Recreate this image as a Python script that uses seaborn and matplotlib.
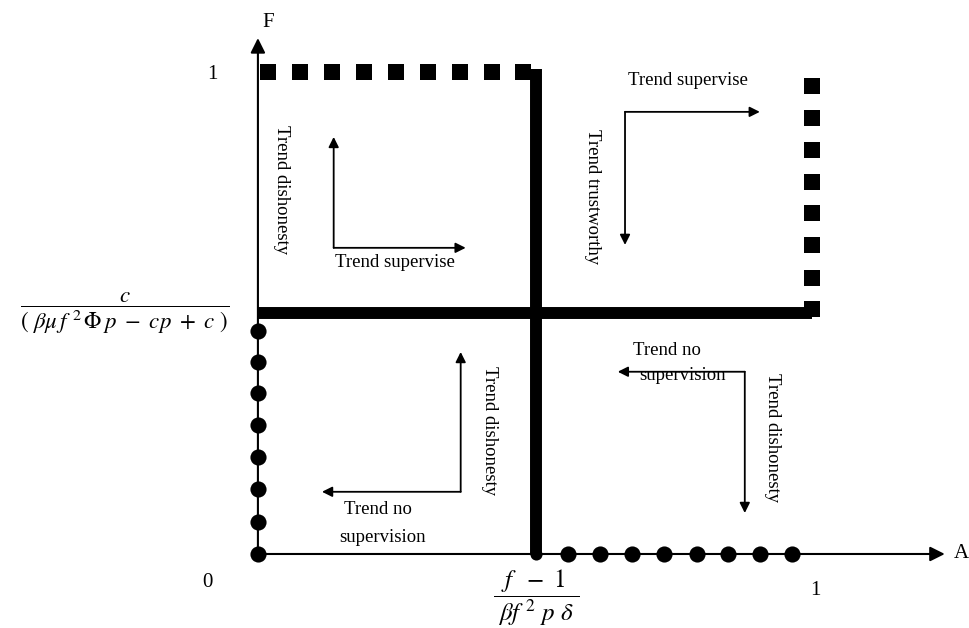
import matplotlib
matplotlib.use("Agg")
import matplotlib.pyplot as plt
import seaborn as sns
import pandas as pd
import numpy as np

# thresholds (x* = (f-1)/(beta f^2 p delta), y* = c/(...))
x_star = 0.5
y_star = 0.5

# square markers: top edge (F = 1) and right edge (A = 1)
sq_top_x = [0.018, 0.075, 0.133, 0.190, 0.248, 0.305, 0.363, 0.420, 0.476]
sq_top_y = [1.0] * 9
sq_right_x = [0.995] * 8
sq_right_y = [0.971, 0.905, 0.838, 0.772, 0.707, 0.640, 0.573, 0.508]

# circle markers: left edge (A = 0) and bottom edge (F = 0)
dot_left_x = [0.0] * 8
dot_left_y = [0.463, 0.398, 0.334, 0.268, 0.201, 0.135, 0.066, 0.0]
dot_bot_x = [0.557, 0.614, 0.671, 0.729, 0.788, 0.844, 0.901, 0.959]
dot_bot_y = [0.0] * 8

squares = pd.DataFrame({"A": sq_top_x + sq_right_x, "F": sq_top_y + sq_right_y})
dots = pd.DataFrame({"A": dot_left_x + dot_bot_x, "F": dot_left_y + dot_bot_y})

sns.set_theme(style="white")
plt.rcParams["font.family"] = ["Liberation Serif", "DejaVu Serif"]
plt.rcParams["mathtext.fontset"] = "stix"
plt.rcParams["text.color"] = "black"

fig = plt.figure(figsize=(9.69, 6.28), dpi=100)
ax = fig.add_axes([0, 0, 1, 1])
ax.set_xlim(-0.463, 1.2765)
ax.set_ylim(-0.1535, 1.149)
ax.axis("off")

# axes with arrow heads
ap_axis = dict(arrowstyle="-|>", lw=1.5, color="black", mutation_scale=22, shrinkA=0, shrinkB=0)
ax.annotate("", xy=(1.233, 0), xytext=(0, 0), arrowprops=ap_axis)
ax.annotate("", xy=(0, 1.07), xytext=(0, 0), arrowprops=ap_axis)

# thick threshold lines
ax.plot([x_star, x_star], [0.0, 1.006], color="black", lw=8.6, solid_capstyle="butt", zorder=3)
ax.scatter([x_star], [0.0], s=76, color="black", linewidth=0, zorder=3)
ax.plot([0, 0.995], [y_star, y_star], color="black", lw=8.6, solid_capstyle="butt", zorder=3)

sns.scatterplot(data=squares, x="A", y="F", marker="s", s=120, color="black",
                linewidth=0, ax=ax, zorder=4)
sns.scatterplot(data=dots, x="A", y="F", marker="o", s=135, color="black",
                linewidth=0, ax=ax, zorder=4)

# trend arrows
ap = dict(arrowstyle="-|>", lw=1.3, color="black", mutation_scale=15, shrinkA=0, shrinkB=0)

def corner(cx, cy, ex, ey):
    ax.annotate("", xy=(ex, cy), xytext=(cx, cy), arrowprops=ap)
    ax.annotate("", xy=(cx, ey), xytext=(cx, cy), arrowprops=ap)

corner(0.136, 0.635, 0.373, 0.865)
corner(0.659, 0.917, 0.901, 0.641)
corner(0.364, 0.129, 0.115, 0.419)
corner(0.874, 0.378, 0.646, 0.085)

fs = 13.5
ax.text(0.043, 0.755, "Trend dishonesty", rotation=270, ha="center", va="center", fontsize=fs)
ax.text(0.246, 0.604, "Trend supervise", ha="center", va="center", fontsize=fs)
ax.text(0.772, 0.983, "Trend supervise", ha="center", va="center", fontsize=fs)
ax.text(0.600, 0.741, "Trend trustworthy", rotation=270, ha="center", va="center", fontsize=fs)
ax.text(0.415, 0.257, "Trend dishonesty", rotation=270, ha="center", va="center", fontsize=fs)
ax.text(0.215, 0.093, "Trend no", ha="center", va="center", fontsize=fs)
ax.text(0.223, 0.035, "supervision", ha="center", va="center", fontsize=fs)
ax.text(0.734, 0.423, "Trend no", ha="center", va="center", fontsize=fs)
ax.text(0.763, 0.371, "supervision", ha="center", va="center", fontsize=fs)
ax.text(0.923, 0.241, "Trend dishonesty", rotation=270, ha="center", va="center", fontsize=fs)

# axis labels and ticks
ax.text(0.018, 1.102, "F", ha="center", va="center", fontsize=15)
ax.text(1.262, 0.0, "A", ha="center", va="center", fontsize=15)
ax.text(-0.090, -0.060, "0", ha="center", va="center", fontsize=15)
ax.text(1.0, -0.075, "1", ha="center", va="center", fontsize=15)
ax.text(-0.081, 0.994, "1", ha="center", va="center", fontsize=15)
ax.text(-0.239, y_star, r"$\dfrac{c}{(\ \beta\mu\, f^{\ 2}\,\Phi\, p\ -\ cp\ +\ c\ )}$",
        ha="center", va="center", fontsize=16.5)
ax.text(x_star, -0.09, r"$\dfrac{\ f\ \ -\ 1\ }{\ \beta f^{\ 2}\ p\ \delta\ }$",
        ha="center", va="center", fontsize=18)

fig.savefig("out.png", dpi=100)
